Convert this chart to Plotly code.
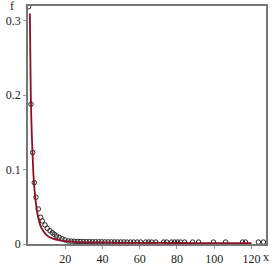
import plotly.graph_objects as go

# observed points (x, f)
pts_x = [0.3, 1.6, 2.5, 3.37, 4.28, 5.52, 6.80, 7.66, 9.11, 10.34, 11.78, 13.02, 14.09, 15.37,
         16.76, 18.21, 19.82, 21.59, 23.2, 24.8, 26.4, 28.0, 29.7, 31.3, 33.0, 34.6, 36.3,
         38.0, 39.6, 41.3, 43.0, 44.7, 46.4, 48.0, 49.8, 51.5, 53.2, 55.0, 56.8, 58.6,
         60.5, 63.2, 64.8, 66.4, 68.6, 72.8, 74.5, 77.1, 78.7, 80.3, 81.9, 84.1, 88.4,
         91.6, 99.6, 106.1, 115.2, 116.8, 123.7, 126.4]
pts_f = [0.319, 0.188, 0.123, 0.0825, 0.0629, 0.0471, 0.0359, 0.0310, 0.0256, 0.0211, 0.0179,
         0.0152, 0.0131, 0.0108, 0.0090, 0.0071, 0.0054, 0.0040, 0.0038, 0.0036, 0.0035,
         0.0034, 0.0033, 0.0032, 0.0031, 0.0030, 0.0030, 0.0029, 0.0029, 0.0028, 0.0028,
         0.0028, 0.0027, 0.0027, 0.0027, 0.0027, 0.0026, 0.0026, 0.0026, 0.0026,
         0.0026, 0.0026, 0.0026, 0.0026, 0.0026, 0.0026, 0.0026, 0.0026, 0.0026, 0.0026,
         0.0026, 0.0026, 0.0026, 0.0026, 0.0026, 0.0026, 0.0026, 0.0026, 0.0026, 0.0026]

# fitted curve (x, f)
fit_x = [1.0, 1.5, 2.0, 2.5, 3.0, 4.0, 5.0, 6.5, 8.0, 10.0, 13.0, 18.0, 25.0, 35.0, 50.0, 70.0, 90.0, 120.0]
fit_f = [0.310, 0.200, 0.150, 0.118, 0.090, 0.060, 0.042, 0.026, 0.018, 0.012, 0.0075, 0.0045,
         0.0028, 0.0020, 0.0016, 0.0014, 0.0013, 0.0012]

x_ticks = [20, 40, 60, 80, 100, 120]
y_ticks = [0, 0.1, 0.2, 0.3]
y_tick_text = ["0", "0.1", "0.2", "0.3"]

font = dict(family="Liberation Serif", size=12, color="#222")

fig = go.Figure()
fig.add_trace(go.Scatter(x=pts_x, y=pts_f, mode="markers",
                         marker=dict(symbol="circle-open", size=4.5, color="#222",
                                     line=dict(width=1, color="#222")),
                         cliponaxis=False, showlegend=False))
fig.add_trace(go.Scatter(x=fit_x, y=fit_f, mode="lines",
                         line=dict(color="#8c1028", width=1.8, shape="spline", smoothing=0.8),
                         showlegend=False))

fig.update_layout(
    width=273, height=273,
    margin=dict(l=28, r=7, t=6, b=29, autoexpand=False),
    paper_bgcolor="white", plot_bgcolor="white",
    font=font,
    xaxis=dict(range=[0, 127.8], tickvals=x_ticks, showgrid=False, zeroline=False,
               showline=True, mirror=True, linecolor="#777", linewidth=1.5,
               ticks="outside", ticklen=3, tickcolor="#999", tickfont=font, automargin=False),
    yaxis=dict(range=[0, 0.32], tickvals=y_ticks, ticktext=y_tick_text, showgrid=False,
               zeroline=False, showline=True, mirror=True, linecolor="#777", linewidth=1.5,
               ticks="outside", ticklen=3, tickcolor="#999", tickfont=font, automargin=False),
    annotations=[
        dict(text="f", xref="paper", yref="paper", x=-0.068, y=1.0, showarrow=False,
             xanchor="center", yanchor="middle", font=font),
        dict(text="x", xref="paper", yref="paper", x=1.0, y=-0.055, showarrow=False,
             xanchor="center", yanchor="middle", font=font),
    ],
)

fig.write_html("out.html", config={"displayModeBar": False},
               post_script="document.body.style.margin='0';")
